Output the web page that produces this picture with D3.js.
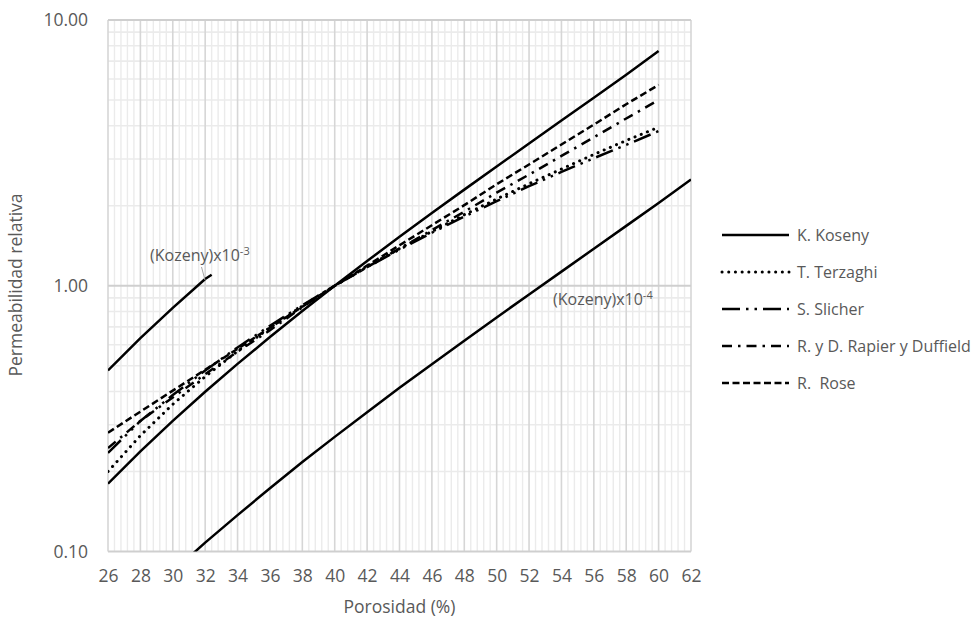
<!DOCTYPE html>
<html>
<head>
<meta charset="utf-8">
<script src="https://cdn.jsdelivr.net/npm/d3@7"></script>
<style>
  html, body { margin: 0; padding: 0; background: #fff; }
  svg { display: block; }
  text { font-family: "Open Sans", "Noto Sans", sans-serif; fill: #595959; }
</style>
</head>
<body>
<svg id="chart" width="976" height="623"></svg>
<script>
// ---------- data ----------
const porosity = [26,28,30,32,34,36,38,40,42,44,46,48,50,52,54,56,58,60];
const kozeny    = [0.18,0.238,0.31,0.399,0.508,0.641,0.803,1,1.239,1.528,1.878,2.30,2.81,3.43,4.19,5.10,6.22,7.65];
const terzaghi  = [0.20,0.273,0.358,0.455,0.567,0.695,0.839,1,1.18,1.38,1.60,1.85,2.12,2.42,2.75,3.12,3.52,3.95];
const slicher   = [0.235,0.31,0.388,0.48,0.586,0.707,0.845,1,1.174,1.368,1.583,1.821,2.08,2.37,2.68,3.02,3.39,3.82];
const rapierDuffield = [0.245,0.31,0.38,0.465,0.565,0.68,0.83,1,1.175,1.38,1.62,1.90,2.24,2.62,3.08,3.62,4.26,5.0];
const rose      = [0.28,0.336,0.403,0.483,0.579,0.695,0.834,1,1.19,1.42,1.69,2.01,2.41,2.86,3.40,4.04,4.82,5.7];

const porosityK3 = [26,28,30,32,32.4];
const kozenyE3   = [0.48,0.635,0.825,1.06,1.10];
const porosityK4 = [30,32,34,36,38,40,42,44,46,48,50,52,54,56,58,60,62];
const kozenyE4   = [0.084,0.108,0.137,0.173,0.217,0.27,0.334,0.413,0.507,0.621,0.76,0.927,1.13,1.378,1.68,2.05,2.51];

const legendNames = ["K. Koseny","T. Terzaghi","S. Slicher","R. y D. Rapier y Duffield","R.  Rose"];
const xTickValues = [26,28,30,32,34,36,38,40,42,44,46,48,50,52,54,56,58,60,62];
const yTickValues = [0.1,1,10];
const xTitle = "Porosidad (%)";
const yTitle = "Permeabilidad relativa";

// ---------- layout ----------
const svg = d3.select("#chart");
const L = 108, R = 691, T = 20, B = 551.5;
const x = d3.scaleLinear().domain([26,62]).range([L,R]);
const y = d3.scaleLog().domain([0.1,10]).range([B,T]);

// grid
const g = svg.append("g");
const minorX = d3.range(26, 62.0001, 0.4).filter(v => Math.abs(Math.round(v) - v) > 1e-6 || Math.round(v) % 2 !== 0);
g.selectAll(".mx").data(minorX).join("line")
  .attr("x1", d => x(d)).attr("x2", d => x(d)).attr("y1", T).attr("y2", B)
  .attr("stroke", "#ebebeb").attr("stroke-width", 1.4);
const minorY = [];
[0.1,1].forEach(dec => { for (let k = 2; k <= 9; k++) minorY.push(k*dec); });
g.selectAll(".my").data(minorY).join("line")
  .attr("x1", L).attr("x2", R).attr("y1", d => y(d)).attr("y2", d => y(d))
  .attr("stroke", "#ebebeb").attr("stroke-width", 1.6);
g.selectAll(".Mx").data(xTickValues).join("line")
  .attr("x1", d => x(d)).attr("x2", d => x(d)).attr("y1", T).attr("y2", B)
  .attr("stroke", "#d6d6d6").attr("stroke-width", 1.6);
g.selectAll(".My").data(yTickValues).join("line")
  .attr("x1", L).attr("x2", R).attr("y1", d => y(d)).attr("y2", d => y(d))
  .attr("stroke", "#cfcfcf").attr("stroke-width", 1.8);

// axes (labels only)
const xAxis = d3.axisBottom(x).tickValues(xTickValues).tickSize(0).tickPadding(18).tickFormat(d3.format("d"));
const xg = svg.append("g").attr("transform", `translate(0,${B})`).call(xAxis);
xg.select(".domain").remove();
xg.selectAll("text").style("font-size", "17.5px").attr("fill", "#595959");

const yAxis = d3.axisLeft(y).tickValues(yTickValues).tickSize(0).tickPadding(20).tickFormat(d3.format(".2f"));
const yg = svg.append("g").attr("transform", `translate(${L},0)`).call(yAxis);
yg.select(".domain").remove();
yg.selectAll("text").style("font-size", "17.5px").attr("fill", "#595959");

svg.append("text").attr("x", (L+R)/2).attr("y", 613).attr("text-anchor", "middle")
  .style("font-size", "17.5px").text(xTitle);
svg.append("text").attr("transform", "translate(22,285) rotate(-90)").attr("text-anchor", "middle")
  .style("font-size", "17.5px").text(yTitle);

// clip
svg.append("clipPath").attr("id", "clip").append("rect")
  .attr("x", L).attr("y", T).attr("width", R-L).attr("height", B-T);

const styles = [
  { dash: null, cap: "butt" },
  { dash: "0.1 6.6", cap: "round" },
  { dash: "18 6 2.5 6 2.5 6", cap: "butt" },
  { dash: "10 6 2.5 6", cap: "butt" },
  { dash: "7 3.5", cap: "butt" }
];
const mainSeries = [kozeny, terzaghi, slicher, rapierDuffield, rose];

const line = d3.line().x(d => x(d[0])).y(d => y(d[1]));
const lg = svg.append("g").attr("clip-path", "url(#clip)");

function drawSeries(xs, ys, st) {
  const p = lg.append("path").datum(xs.map((v,i) => [v, ys[i]]))
    .attr("d", line).attr("fill", "none").attr("stroke", "#000")
    .attr("stroke-width", st.cap === "round" ? 3 : 2.5)
    .attr("stroke-linecap", st.cap).attr("stroke-linejoin", "round");
  if (st.dash) p.attr("stroke-dasharray", st.dash);
}
drawSeries(porosityK3, kozenyE3, styles[0]);
drawSeries(porosityK4, kozenyE4, styles[0]);
mainSeries.forEach((s,i) => drawSeries(porosity, s, styles[i]));

// annotations
const a1 = svg.append("text").attr("x", 150).attr("y", 261).style("font-size", "16px");
a1.append("tspan").text("(Kozeny)x10");
a1.append("tspan").attr("dy", -6).style("font-size", "11px").text("-3");
svg.append("line").attr("x1", 201.5).attr("y1", 267).attr("x2", 205).attr("y2", 280)
  .attr("stroke", "#a6a6a6").attr("stroke-width", 1);

const a2 = svg.append("text").attr("x", 553).attr("y", 305).style("font-size", "16px");
a2.append("tspan").text("(Kozeny)x10");
a2.append("tspan").attr("dy", -6).style("font-size", "11px").text("-4");

// legend
const legY = [235, 272, 309, 346, 383];
const leg = svg.append("g");
legendNames.forEach((name, i) => {
  const st = styles[i];
  const l = leg.append("line").attr("x1", 722).attr("x2", 789).attr("y1", legY[i]).attr("y2", legY[i])
    .attr("stroke", "#000").attr("stroke-width", st.cap === "round" ? 3 : 2.5)
    .attr("stroke-linecap", st.cap);
  if (st.dash) l.attr("stroke-dasharray", st.dash);
  leg.append("text").attr("x", 797).attr("y", legY[i]).attr("dy", "0.35em")
    .attr("xml:space", "preserve").style("white-space", "pre")
    .style("font-size", "16px").text(name);
});
</script>
</body>
</html>
